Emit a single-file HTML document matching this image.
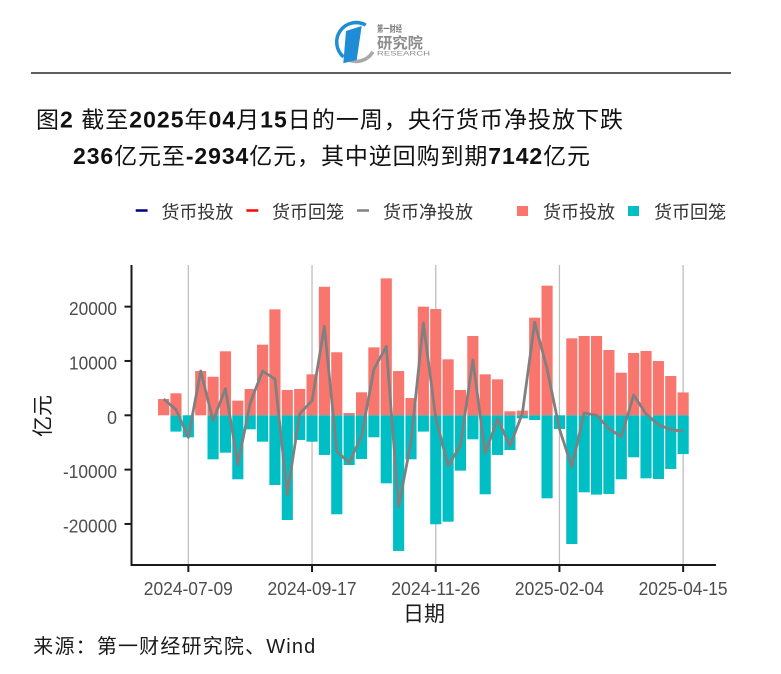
<!DOCTYPE html>
<html><head><meta charset="utf-8"><style>
html,body{margin:0;padding:0;background:#fff;}
svg{display:block;}
text{font-family:"Liberation Sans","Noto Sans CJK SC",sans-serif;}
</style></head><body>
<svg width="781" height="674" viewBox="0 0 781 674" xmlns="http://www.w3.org/2000/svg">
<rect width="781" height="674" fill="#fff"/>
<path d="M365.75 25.1 A19.5 19.5 0 0 0 343.5 56.9" fill="none" stroke="#1f8dd6" stroke-width="3.5"/>
<path d="M344.5 57.6 A19.5 19.5 0 0 0 372.9 51.75" fill="none" stroke="#a9a9a9" stroke-width="3.5"/>
<polygon points="346,31 361.7,26 356.7,60 343.3,63.3" fill="#1f8dd6"/>
<text x="377" y="32" font-size="9" font-weight="bold" fill="#7a7a7a" textLength="25" lengthAdjust="spacingAndGlyphs">第一财经</text>
<text x="377" y="48" font-size="15" font-weight="bold" fill="#8c8c8c" textLength="46" lengthAdjust="spacingAndGlyphs">研究院</text>
<text x="377" y="55.5" font-size="6.5" fill="#8c8c8c" textLength="53" lengthAdjust="spacingAndGlyphs">RESEARCH</text>
<line x1="31" y1="73" x2="731" y2="73" stroke="#000" stroke-width="1.3"/>
<text x="36" y="127.6" font-size="23" fill="#111" textLength="587" lengthAdjust="spacing">图<tspan font-weight="bold">2</tspan> 截至<tspan font-weight="bold">2025</tspan>年<tspan font-weight="bold">04</tspan>月<tspan font-weight="bold">15</tspan>日的一周，央行货币净投放下跌</text>
<text x="73" y="164" font-size="23" fill="#111" textLength="517" lengthAdjust="spacing"><tspan font-weight="bold">236</tspan>亿元至<tspan font-weight="bold">-2934</tspan>亿元，其中逆回购到期<tspan font-weight="bold">7142</tspan>亿元</text>
<line x1="135.7" y1="210.5" x2="147.6" y2="210.5" stroke="#000080" stroke-width="2.5"/>
<text x="161.4" y="218.5" font-size="18" fill="#333">货币投放</text>
<line x1="246.4" y1="210.5" x2="258.3" y2="210.5" stroke="#ff0000" stroke-width="2.5"/>
<text x="272" y="218.5" font-size="18" fill="#333">货币回笼</text>
<line x1="357" y1="210.5" x2="369" y2="210.5" stroke="#808080" stroke-width="2.5"/>
<text x="383" y="218.5" font-size="18" fill="#333">货币净投放</text>
<rect x="517" y="206" width="11" height="10" fill="#F8766D"/>
<text x="543" y="218.5" font-size="18" fill="#333">货币投放</text>
<rect x="628" y="206" width="11" height="10" fill="#00BFC4"/>
<text x="654" y="218.5" font-size="18" fill="#333">货币回笼</text>
<g stroke="#bfbfbf" stroke-width="1.3">
<line x1="188.34" y1="265" x2="188.34" y2="565"/>
<line x1="312.04" y1="265" x2="312.04" y2="565"/>
<line x1="435.74" y1="265" x2="435.74" y2="565"/>
<line x1="559.44" y1="265" x2="559.44" y2="565"/>
<line x1="683.14" y1="265" x2="683.14" y2="565"/>
</g>
<g transform="translate(163.6 415.3) scale(12.37 -5.433)">
<g fill="#F8766D">
<rect x="-0.45" y="0" width="0.9" height="3.0"/>
<rect x="0.55" y="0" width="0.9" height="4.05"/>
<rect x="2.55" y="0" width="0.9" height="8.15"/>
<rect x="3.55" y="0" width="0.9" height="7.1"/>
<rect x="4.55" y="0" width="0.9" height="11.78"/>
<rect x="5.55" y="0" width="0.9" height="2.7"/>
<rect x="6.55" y="0" width="0.9" height="4.84"/>
<rect x="7.55" y="0" width="0.9" height="13.0"/>
<rect x="8.55" y="0" width="0.9" height="19.5"/>
<rect x="9.55" y="0" width="0.9" height="4.66"/>
<rect x="10.55" y="0" width="0.9" height="4.84"/>
<rect x="11.55" y="0" width="0.9" height="7.54"/>
<rect x="12.55" y="0" width="0.9" height="23.66"/>
<rect x="13.55" y="0" width="0.9" height="11.6"/>
<rect x="14.55" y="0" width="0.9" height="0.42"/>
<rect x="15.55" y="0" width="0.9" height="4.23"/>
<rect x="16.55" y="0" width="0.9" height="12.5"/>
<rect x="17.55" y="0" width="0.9" height="25.2"/>
<rect x="18.55" y="0" width="0.9" height="8.15"/>
<rect x="19.55" y="0" width="0.9" height="3.18"/>
<rect x="20.55" y="0" width="0.9" height="20.0"/>
<rect x="21.55" y="0" width="0.9" height="19.56"/>
<rect x="22.55" y="0" width="0.9" height="10.3"/>
<rect x="23.55" y="0" width="0.9" height="4.66"/>
<rect x="24.55" y="0" width="0.9" height="14.6"/>
<rect x="25.55" y="0" width="0.9" height="7.54"/>
<rect x="26.55" y="0" width="0.9" height="6.62"/>
<rect x="27.55" y="0" width="0.9" height="0.74"/>
<rect x="28.55" y="0" width="0.9" height="0.86"/>
<rect x="29.55" y="0" width="0.9" height="17.97"/>
<rect x="30.55" y="0" width="0.9" height="23.86"/>
<rect x="32.55" y="0" width="0.9" height="14.17"/>
<rect x="33.55" y="0" width="0.9" height="14.6"/>
<rect x="34.55" y="0" width="0.9" height="14.6"/>
<rect x="35.55" y="0" width="0.9" height="12.02"/>
<rect x="36.55" y="0" width="0.9" height="7.84"/>
<rect x="37.55" y="0" width="0.9" height="11.47"/>
<rect x="38.55" y="0" width="0.9" height="11.84"/>
<rect x="39.55" y="0" width="0.9" height="9.99"/>
<rect x="40.55" y="0" width="0.9" height="7.23"/>
<rect x="41.55" y="0" width="0.9" height="4.21"/>
</g>
<g fill="#00BFC4">
<rect x="0.55" y="-3.0" width="0.9" height="3.0"/>
<rect x="1.55" y="-4.05" width="0.9" height="4.05"/>
<rect x="3.55" y="-8.1" width="0.9" height="8.1"/>
<rect x="4.55" y="-6.88" width="0.9" height="6.88"/>
<rect x="5.55" y="-11.78" width="0.9" height="11.78"/>
<rect x="6.55" y="-2.58" width="0.9" height="2.58"/>
<rect x="7.55" y="-4.86" width="0.9" height="4.86"/>
<rect x="8.55" y="-12.83" width="0.9" height="12.83"/>
<rect x="9.55" y="-19.27" width="0.9" height="19.27"/>
<rect x="10.55" y="-4.54" width="0.9" height="4.54"/>
<rect x="11.55" y="-4.86" width="0.9" height="4.86"/>
<rect x="12.55" y="-7.3" width="0.9" height="7.3"/>
<rect x="13.55" y="-18.22" width="0.9" height="18.22"/>
<rect x="14.55" y="-9.15" width="0.9" height="9.15"/>
<rect x="15.55" y="-8.04" width="0.9" height="8.04"/>
<rect x="16.55" y="-4.05" width="0.9" height="4.05"/>
<rect x="17.55" y="-12.52" width="0.9" height="12.52"/>
<rect x="18.55" y="-24.97" width="0.9" height="24.97"/>
<rect x="19.55" y="-8.1" width="0.9" height="8.1"/>
<rect x="20.55" y="-3.0" width="0.9" height="3.0"/>
<rect x="21.55" y="-20.06" width="0.9" height="20.06"/>
<rect x="22.55" y="-19.58" width="0.9" height="19.58"/>
<rect x="23.55" y="-10.19" width="0.9" height="10.19"/>
<rect x="24.55" y="-4.42" width="0.9" height="4.42"/>
<rect x="25.55" y="-14.54" width="0.9" height="14.54"/>
<rect x="26.55" y="-7.3" width="0.9" height="7.3"/>
<rect x="27.55" y="-6.39" width="0.9" height="6.39"/>
<rect x="28.55" y="-0.56" width="0.9" height="0.56"/>
<rect x="29.55" y="-0.86" width="0.9" height="0.86"/>
<rect x="30.55" y="-15.28" width="0.9" height="15.28"/>
<rect x="31.55" y="-2.52" width="0.9" height="2.52"/>
<rect x="32.55" y="-23.69" width="0.9" height="23.69"/>
<rect x="33.55" y="-14.17" width="0.9" height="14.17"/>
<rect x="34.55" y="-14.6" width="0.9" height="14.6"/>
<rect x="35.55" y="-14.48" width="0.9" height="14.48"/>
<rect x="36.55" y="-11.78" width="0.9" height="11.78"/>
<rect x="37.55" y="-7.73" width="0.9" height="7.73"/>
<rect x="38.55" y="-11.6" width="0.9" height="11.6"/>
<rect x="39.55" y="-11.72" width="0.9" height="11.72"/>
<rect x="40.55" y="-9.88" width="0.9" height="9.88"/>
<rect x="41.55" y="-7.14" width="0.9" height="7.14"/>
</g>
<polyline fill="none" stroke="#808080" stroke-width="2.8" stroke-linejoin="round" vector-effect="non-scaling-stroke" points="0,3 1,1.05 2,-4.05 3,8.15 4,-1.0 5,4.9 6,-9.08 7,2.26 8,8.14 9,6.67 10,-14.61 11,0.3 12,2.68 13,16.36 14,-6.62 15,-8.73 16,-3.81 17,8.45 18,12.68 19,-16.82 20,-4.92 21,17.0 22,-0.5 23,-9.28 24,-5.53 25,10.18 26,-7.0 27,-0.68 28,-5.65 29,0.3 30,17.11 31,8.58 32,-2.52 33,-9.52 34,0.43 35,0.0 36,-2.46 37,-3.94 38,3.74 39,0.24 40,-1.73 41,-2.65 42,-2.934"/>
</g>
<g stroke="#1a1a1a" stroke-width="2">
<line x1="131.5" y1="265" x2="131.5" y2="566"/>
<line x1="130.5" y1="565" x2="716" y2="565"/>
<line x1="124.5" y1="306.64" x2="131" y2="306.64"/>
<line x1="124.5" y1="360.97" x2="131" y2="360.97"/>
<line x1="124.5" y1="415.3" x2="131" y2="415.3"/>
<line x1="124.5" y1="469.63" x2="131" y2="469.63"/>
<line x1="124.5" y1="523.96" x2="131" y2="523.96"/>
<line x1="188.34" y1="565" x2="188.34" y2="572"/>
<line x1="312.04" y1="565" x2="312.04" y2="572"/>
<line x1="435.74" y1="565" x2="435.74" y2="572"/>
<line x1="559.44" y1="565" x2="559.44" y2="572"/>
<line x1="683.14" y1="565" x2="683.14" y2="572"/>
</g>
<g font-size="18" fill="#4d4d4d" text-anchor="end">
<text x="117" y="315.1" textLength="48" lengthAdjust="spacingAndGlyphs">20000</text>
<text x="117" y="369.5" textLength="48" lengthAdjust="spacingAndGlyphs">10000</text>
<text x="117" y="423.8">0</text>
<text x="117" y="478.2" textLength="54" lengthAdjust="spacingAndGlyphs">-10000</text>
<text x="117" y="532.5" textLength="54" lengthAdjust="spacingAndGlyphs">-20000</text>
</g>
<g font-size="18" fill="#4d4d4d">
<text x="143.8" y="595" textLength="89" lengthAdjust="spacingAndGlyphs">2024-07-09</text>
<text x="267.5" y="595" textLength="89" lengthAdjust="spacingAndGlyphs">2024-09-17</text>
<text x="391.2" y="595" textLength="89" lengthAdjust="spacingAndGlyphs">2024-11-26</text>
<text x="514.9" y="595" textLength="89" lengthAdjust="spacingAndGlyphs">2025-02-04</text>
<text x="638.6" y="595" textLength="89" lengthAdjust="spacingAndGlyphs">2025-04-15</text>
</g>
<text x="424" y="621" font-size="21" fill="#1a1a1a" text-anchor="middle">日期</text>
<text transform="translate(50 416) rotate(-90)" font-size="21" fill="#1a1a1a" text-anchor="middle">亿元</text>
<text x="33.3" y="653" font-size="20" fill="#1a1a1a" textLength="282" lengthAdjust="spacing">来源：第一财经研究院、Wind</text>
</svg>
</body></html>
